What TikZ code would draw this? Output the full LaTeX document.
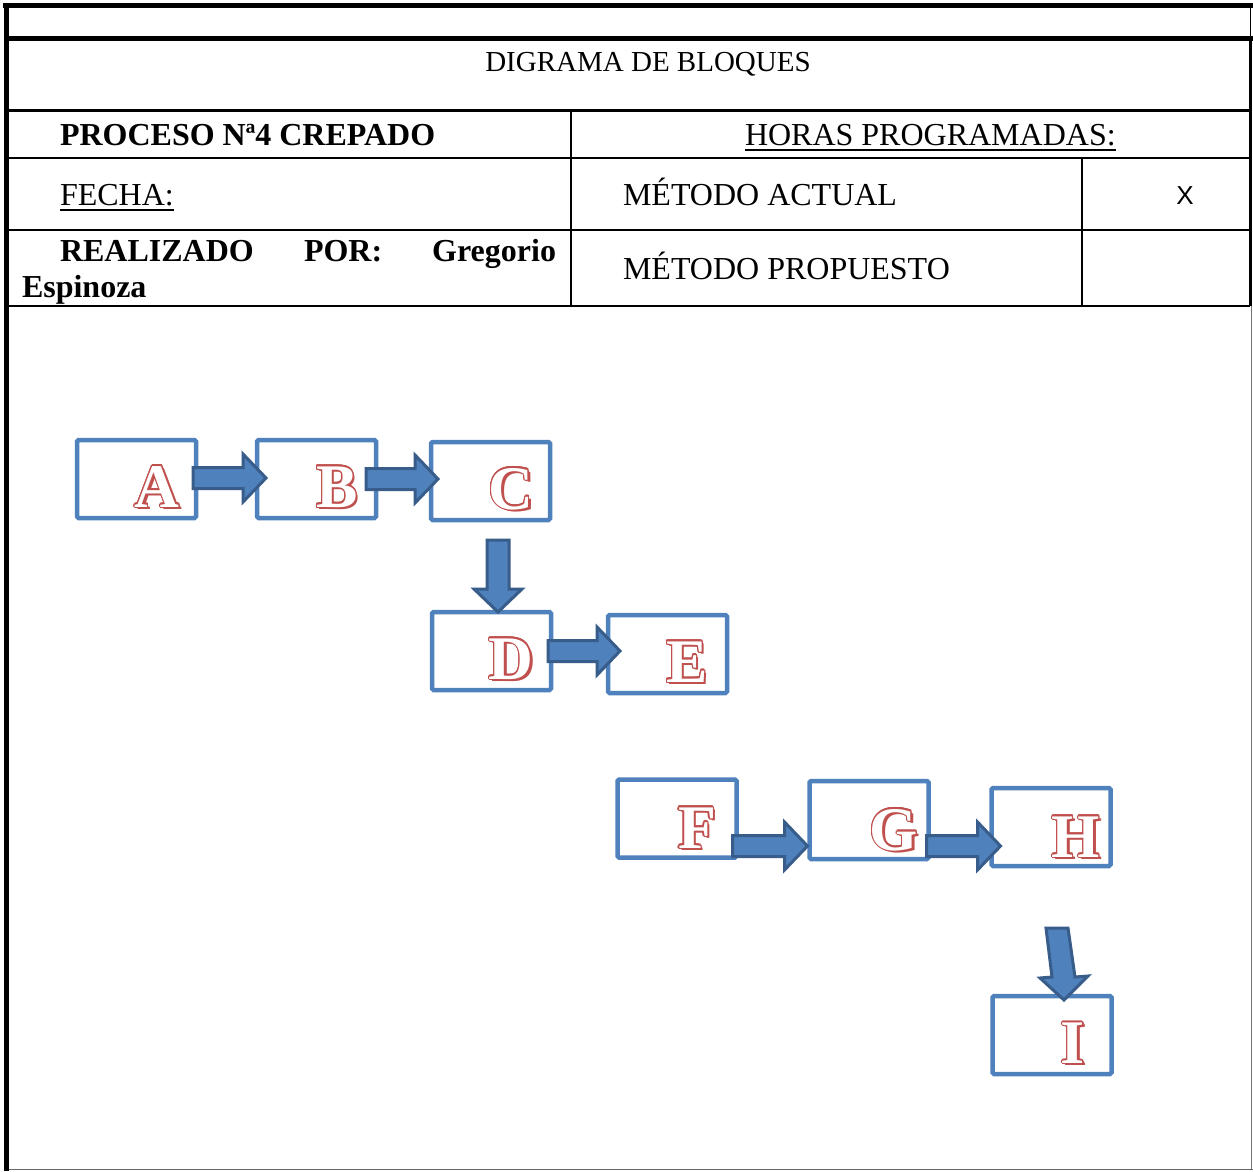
\documentclass[tikz,border=0pt]{standalone}
\usepackage{fontspec}
\setmainfont{Liberation Serif}
\newfontfamily\xsans{Liberation Sans}
\usepackage[copies]{contour}
\contourlength{1.1pt}
\usetikzlibrary{calc}
\definecolor{boxblue}{HTML}{4F81BD}
\definecolor{arrdark}{HTML}{385D8A}
\definecolor{letred}{HTML}{C0504D}
\newcommand\engr[1]{\makebox[0pt][l]{\hspace{2.5pt}\raisebox{-2pt}{\textcolor{letred}{#1}}}\contour{letred}{\textcolor{white}{#1}}}
\tikzset{
  every node/.style={inner sep=0pt, outer sep=0pt},
  blk/.style={draw=boxblue, line width=4.5pt, fill=white, rounded corners=1.5pt, minimum width=119pt, minimum height=78pt},
  blkarrow/.style={fill=boxblue, draw=arrdark, line width=3pt, line join=miter},
  letter/.style={anchor=base, font=\fontsize{62}{70}\selectfont\bfseries},
  celltxt/.style={anchor=base west, font=\fontsize{32}{38}\selectfont},
  cellbold/.style={anchor=base west, font=\fontsize{32}{38}\selectfont\bfseries},
  ul/.style={line width=1.6pt},
}
% horizontal block arrow: #1 start point, #2 tip point
\newcommand\harrow[2]{%
  \draw[blkarrow] let \p1=(#1), \p2=(#2) in
    (\x1,\y2+10.5pt) -- (\x2-23pt,\y2+10.5pt) -- (\x2-23pt,\y2+24pt) -- (\x2,\y2)
    -- (\x2-23pt,\y2-24pt) -- (\x2-23pt,\y2-10.5pt) -- (\x1,\y2-10.5pt) -- cycle;}
\newcommand\varrow[2]{%
  \draw[blkarrow] let \p1=(#1), \p2=(#2) in
    (\x2-11pt,\y1) -- (\x2-11pt,\y2+23pt) -- (\x2-24pt,\y2+23pt) -- (\x2,\y2)
    -- (\x2+24pt,\y2+23pt) -- (\x2+11pt,\y2+23pt) -- (\x2+11pt,\y1) -- cycle;}
\begin{document}
\begin{tikzpicture}[x=1pt,y=-1pt]
\useasboundingbox (0,0) rectangle (1253,1171);
\fill[white] (0,0) rectangle (1253,1171);
% frame and table
\draw[line width=5pt] (3,5) -- (1253,5);
\draw[line width=1pt] (1250,5) -- (1250,38);
\draw[line width=5pt] (8,38) -- (1253,38);
\draw[line width=3pt] (1250,38) -- (1250,306);
\draw[line width=3pt] (8,110) -- (1250,110);
\draw[line width=2pt] (8,158) -- (1250,158);
\draw[line width=2pt] (8,230) -- (1250,230);
\draw[line width=2pt] (8,306) -- (1250,306);
\draw[line width=2pt] (571,110) -- (571,306);
\draw[line width=2pt] (1082,158) -- (1082,306);
\draw[line width=1pt, black!55] (1251,306) -- (1251,1169);
\draw[line width=1.5pt, black!60] (8,1169.5) -- (1253,1169.5);
\draw[line width=5pt] (6,3) -- (6,1171);
% table texts
\node[anchor=base, font=\fontsize{29}{34}\selectfont] (title) at (648,71) {DIGRAMA DE BLOQUES};
\node[cellbold] (proc) at (60,145) {PROCESO Nª4 CREPADO};
\node[celltxt] (horas) at (745,145) {HORAS PROGRAMADAS:};
\draw[ul] ($(horas.base west)+(0,5)$) -- ($(horas.base east)+(0,5)$);
\node[celltxt] (fecha) at (60,205) {FECHA:};
\draw[ul] ($(fecha.base west)+(0,5)$) -- ($(fecha.base east)+(0,5)$);
\node[celltxt] (mact) at (623,205) {MÉTODO ACTUAL};
\node[anchor=base, font=\fontsize{26}{30}\selectfont\xsans] (xmark) at (1185,204) {X};
\node[cellbold] (real) at (60,261) {REALIZADO};
\node[cellbold] (por) at (304,261) {POR:};
\node[cellbold, anchor=base east] (greg) at (556,261) {Gregorio};
\node[cellbold] (esp) at (22,297) {Espinoza};
\node[celltxt] (mprop) at (623,279) {MÉTODO PROPUESTO};
% blocks
\node[blk] (A) at (136.5,479) {};
\node[blk] (B) at (316.5,479) {};
\node[blk] (C) at (490.5,481) {};
\node[blk] (D) at (491.5,651) {};
\node[blk] (E) at (667.5,654) {};
\node[blk] (F) at (677,818.5) {};
\node[blk] (G) at (869,820) {};
\node[blk] (H) at (1051,827) {};
\node[blk] (I) at (1052,1035) {};
% letters
\node[letter] (lA) at (157,507) {\engr{A}};
\node[letter] (lB) at (337,507) {\engr{B}};
\node[letter] (lC) at (511,509) {\engr{C}};
\node[letter] (lD) at (511,679) {\engr{D}};
\node[letter] (lE) at (687,682) {\engr{E}};
\node[letter] (lF) at (697,848) {\engr{F}};
\node[letter] (lG) at (894,850) {\engr{G}};
\node[letter] (lH) at (1076,857) {\engr{H}};
\node[letter] (lI) at (1073,1063) {\engr{I}};
% arrows
\coordinate (tAB) at ($(B.west)+(9,-1)$);
\coordinate (sAB) at ($(A.east)+(-3,0)$);
\harrow{sAB}{tAB}
\coordinate (tBC) at ($(C.west)+(7,-2)$);
\coordinate (sBC) at ($(B.east)+(-10,0)$);
\harrow{sBC}{tBC}
\coordinate (sCD) at ($(C.south)+(7.5,20)$);
\coordinate (tCD) at ($(D.north)+(6.5,0)$);
\varrow{sCD}{tCD}
\coordinate (sDE) at ($(D.east)+(-3,0)$);
\coordinate (tDE) at ($(E.west)+(12,-3)$);
\harrow{sDE}{tDE}
\coordinate (sFG) at ($(F.east)+(-4,0)$);
\coordinate (tFG) at ($(G.west)+(-2,26)$);
\harrow{sFG}{tFG}
\coordinate (sGH) at ($(G.east)+(-2,0)$);
\coordinate (tGH) at ($(H.west)+(9,19)$);
\harrow{sGH}{tGH}
\coordinate (sHI) at ($(H.south)+(6,62)$);
\coordinate (tHI) at ($(I.north)+(12,4)$);
\draw[blkarrow] let \p1=(sHI), \p2=(tHI) in
  (\x1-11pt,\y1) -- (\x2-12pt,\y2+23pt) -- (\x2-24pt,\y2+22pt) -- (\x2,\y2)
  -- (\x2+24pt,\y2+24pt) -- (\x2+11pt,\y2+23pt) -- (\x1+11pt,\y1) -- cycle;
\end{tikzpicture}
\end{document}
